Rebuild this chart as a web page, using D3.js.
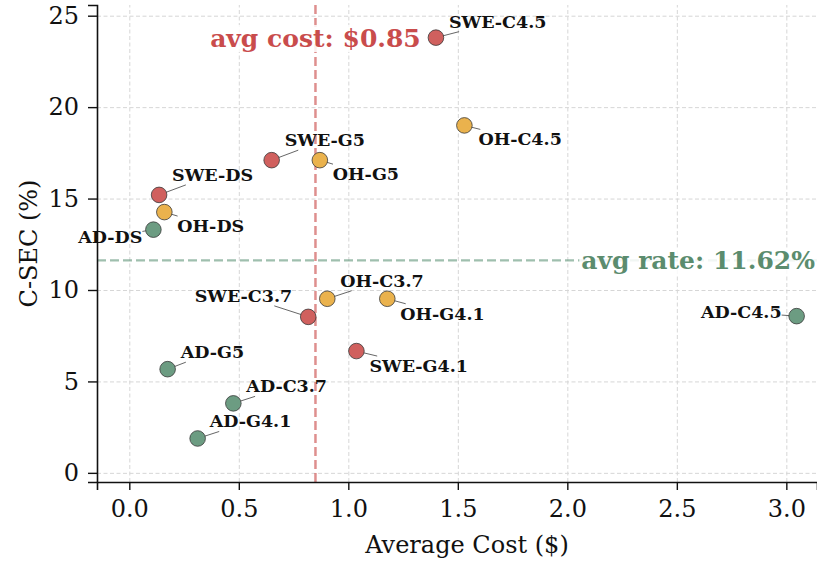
<!DOCTYPE html>
<html lang="en">
  <head>
    <meta charset="UTF-8" />
    <title>C-SEC vs Average Cost</title>
    <style>
      body { margin: 0; background: #fff; }
      svg, svg text { font-family: "DejaVu Serif", serif; }
      .grid line { stroke: #d6d6d6; stroke-width: 1; stroke-dasharray: 4,2.5; }
      .grid .domain { display: none; }
      .axis text { font-family: "DejaVu Serif", serif; font-size: 24px; fill: #111; }
      .axis line { stroke: #111; stroke-width: 1.4; }
      .axis .domain { stroke: #111; stroke-width: 1.6; }
      .pt-label { font-size: 17.5px; font-weight: bold; fill: #111; }
    </style>
  </head>
  <body>
    <script src="https://cdn.jsdelivr.net/npm/d3@7"></script>
    <script>

      // data
      var names = ["SWE-C4.5", "OH-C4.5", "SWE-G5", "OH-G5", "SWE-DS", "OH-DS", "AD-DS",
                   "SWE-C3.7", "OH-C3.7", "OH-G4.1", "SWE-G4.1", "AD-C4.5", "AD-G5", "AD-C3.7", "AD-G4.1"];
      var costs = [1.40, 1.53, 0.65, 0.87, 0.136, 0.16, 0.11,
                   0.817, 0.904, 1.178, 1.037, 3.047, 0.175, 0.475, 0.312];
      var rates = [23.8, 19.0, 17.1, 17.1, 15.2, 14.26, 13.3,
                   8.53, 9.52, 9.52, 6.66, 8.57, 5.67, 3.8, 1.88];
      var groups = ["SWE", "OH", "SWE", "OH", "SWE", "OH", "AD",
                    "SWE", "OH", "OH", "SWE", "AD", "AD", "AD", "AD"];
      var groupNames = ["SWE", "OH", "AD"];
      var groupColors = ["#d0605e", "#eab24d", "#6c9c82"];
      var xTicks = [0, 0.5, 1.0, 1.5, 2.0, 2.5, 3.0];
      var yTicks = [0, 5, 10, 15, 20, 25];
      var avgCost = 0.85;
      var avgRate = 11.62;

      // label placement (pixels from the point; anchor)
      var labelDx = [13, 14, 13, 13, 13, 13, -11, -16, 13, 13, 13, -15, 13, 13, 12];
      var labelDy = [-10, 20, -14, 20, -14, 20, 13, -15, -12, 21, 21, 2, -11, -11, -11];
      var labelAnchor = ["start", "start", "start", "start", "start", "start", "end",
                         "end", "start", "start", "start", "end", "start", "start", "start"];

      var W = 817, H = 563;
      var margin = { top: 5, right: 0, bottom: 81, left: 97 };

      var svg = d3.select("body").append("svg")
                  .attr("width", W)
                  .attr("height", H);

      var xScale = d3.scaleLinear()
                     .domain([-0.1475, 3.14])
                     .range([margin.left, W - margin.right]);
      var yScale = d3.scaleLinear()
                     .domain([-0.5, 25.585])
                     .range([H - margin.bottom, margin.top]);
      var color = d3.scaleOrdinal().domain(groupNames).range(groupColors);

//grid
      svg.append("g")
         .attr("class", "grid")
         .attr("transform", "translate(0," + (H - margin.bottom) + ")")
         .call(d3.axisBottom(xScale).tickValues(xTicks).tickSize(-(H - margin.bottom - margin.top)).tickFormat(""));
      svg.append("g")
         .attr("class", "grid")
         .attr("transform", "translate(" + margin.left + ",0)")
         .call(d3.axisLeft(yScale).tickValues(yTicks).tickSize(-(W - margin.left - margin.right)).tickFormat(""));

//reference lines
      svg.append("line")
         .attr("x1", margin.left).attr("x2", W)
         .attr("y1", yScale(avgRate)).attr("y2", yScale(avgRate))
         .attr("stroke", "#6c9c82").attr("stroke-opacity", 0.65)
         .attr("stroke-width", 2.2).attr("stroke-dasharray", "9,4");
      svg.append("line")
         .attr("x1", xScale(avgCost)).attr("x2", xScale(avgCost))
         .attr("y1", margin.top).attr("y2", H - margin.bottom)
         .attr("stroke", "#d0605e").attr("stroke-opacity", 0.7)
         .attr("stroke-width", 2.5).attr("stroke-dasharray", "9,4");

//axes
      svg.append("g")
         .attr("class", "axis")
         .attr("transform", "translate(0," + (H - margin.bottom) + ")")
         .call(d3.axisBottom(xScale).tickValues(xTicks).tickSize(8).tickPadding(10).tickFormat(d3.format(".1f")));
      svg.append("g")
         .attr("class", "axis")
         .attr("transform", "translate(" + margin.left + ",0)")
         .call(d3.axisLeft(yScale).tickValues(yTicks).tickSize(9).tickPadding(9).tickFormat(d3.format("d")));
      svg.selectAll(".axis").attr("font-family", null);

      var points = names.map(function(n, i) {
        return { name: n, cost: costs[i], rate: rates[i], group: groups[i],
                 dx: labelDx[i], dy: labelDy[i], anchor: labelAnchor[i] };
      });

//labels + leader lines
      var lab = svg.append("g").selectAll("g")
                   .data(points).enter().append("g");
      lab.append("text")
         .attr("class", "pt-label")
         .attr("x", function(d) { return xScale(d.cost) + d.dx; })
         .attr("y", function(d) { return yScale(d.rate) + d.dy; })
         .attr("text-anchor", function(d) { return d.anchor; })
         .text(function(d) { return d.name; });
      lab.each(function(d) {
        var b = d3.select(this).select("text").node().getBBox();
        var px = xScale(d.cost), py = yScale(d.rate);
        var cx = b.x + b.width / 2, cy = b.y + b.height / 2;
        // clip the line from label centre to point at the label box
        var ddx = px - cx, ddy = py - cy;
        var tx = ddx !== 0 ? (b.width / 2) / Math.abs(ddx) : Infinity;
        var ty = ddy !== 0 ? (b.height / 2) / Math.abs(ddy) : Infinity;
        var t = Math.min(tx, ty);
        d3.select(this).insert("line", "text")
          .attr("x1", cx + ddx * t).attr("y1", cy + ddy * t)
          .attr("x2", px).attr("y2", py)
          .attr("stroke", "#555").attr("stroke-width", 0.9);
      });

//points
      svg.append("g").selectAll("circle")
         .data(points).enter().append("circle")
         .attr("cx", function(d) { return xScale(d.cost); })
         .attr("cy", function(d) { return yScale(d.rate); })
         .attr("r", 7.8)
         .attr("fill", function(d) { return color(d.group); })
         .attr("stroke", "#3a3a3a")
         .attr("stroke-width", 0.8);

//annotation boxes
      function boxedText(x, y, anchor, fill, str) {
        var g = svg.append("g");
        var t = g.append("text")
                 .attr("x", x).attr("y", y)
                 .attr("text-anchor", anchor)
                 .attr("font-size", "25px")
                 .attr("font-weight", "bold")
                 .attr("fill", fill)
                 .text(str);
        var b = t.node().getBBox();
        g.insert("rect", "text")
         .attr("x", b.x - 2).attr("y", b.y + 1)
         .attr("width", b.width + 4).attr("height", b.height - 2)
         .attr("fill", "#fff").attr("fill-opacity", 0.85);
      }
      boxedText(xScale(avgCost), 47, "middle", "#c94c4c", "avg cost: $" + avgCost.toFixed(2));
      boxedText(W - 2, yScale(avgRate) + 9, "end", "#5b8c6e", "avg rate: " + avgRate.toFixed(2) + "%");

//axis labels
      svg.append("text")
         .attr("text-anchor", "middle")
         .attr("x", 467)
         .attr("y", 553)
         .attr("font-size", "24px")
         .attr("fill", "#111")
         .text("Average Cost ($)");
      svg.append("text")
         .attr("text-anchor", "middle")
         .attr("transform", "translate(37," + ((margin.top + H - margin.bottom) / 2) + ")rotate(-90)")
         .attr("font-size", "24px")
         .attr("fill", "#111")
         .text("C-SEC (%)");

    </script>
  </body>
</html>
